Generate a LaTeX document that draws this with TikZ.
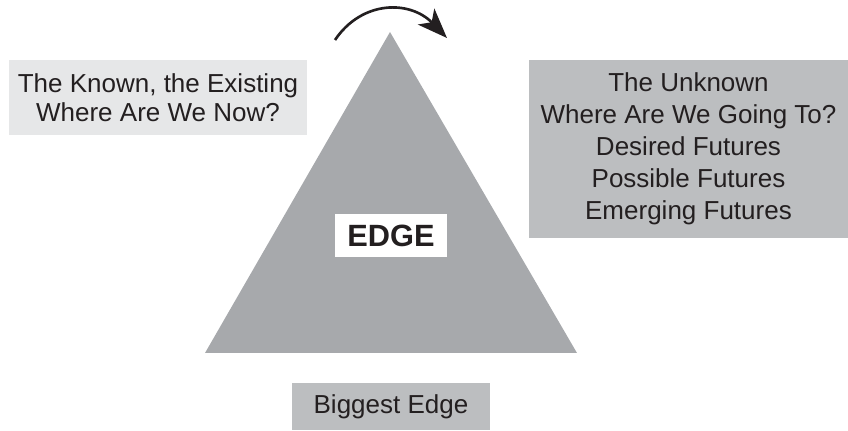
\documentclass[tikz,border=0pt]{standalone}
\usepackage{fontspec}
\setmainfont{Liberation Sans}
\usetikzlibrary{arrows.meta}

\definecolor{edgegray}{HTML}{A7A9AC}
\definecolor{boxgray}{HTML}{BCBEC0}
\definecolor{palegray}{HTML}{E6E7E8}
\definecolor{inkgray}{HTML}{231F20}

\tikzset{
    box/.style={inner sep=0pt, align=center, text=inkgray},
}

\begin{document}
\begin{tikzpicture}[x=0.2mm, y=-0.2mm]
    \useasboundingbox (0,0) rectangle (848,431);

    \fill[edgegray] (390,32) -- (577,353) -- (205,353) -- cycle;

    \draw(158,97.5) node[box, fill=palegray, minimum width=59.6mm, minimum height=15mm,
        font=\fontsize{14.8}{16.5}\selectfont] (known)
        {The Known, the Existing\\Where Are We Now?};
    \draw(688.5,149) node[box, fill=boxgray, minimum width=63.8mm, minimum height=35.6mm,
        font=\fontsize{14.8}{18.2}\selectfont] (unknown)
        {The Unknown\\Where Are We Going To?\\Desired Futures\\Possible Futures\\Emerging Futures};
    \draw(391,235.5) node[box, fill=white, minimum width=22.4mm, minimum height=8.6mm,
        font=\fontsize{17.5}{19}\selectfont\bfseries] (edge) {EDGE};
    \draw(391,406.5) node[box, fill=boxgray, minimum width=39.6mm, minimum height=9.4mm,
        font=\fontsize{14.8}{17}\selectfont] (biggest) {Biggest Edge};

    \coordinate (from) at (335,40);
    \coordinate (to) at (447,38);
    \draw[inkgray, line width=1.5pt, -{Stealth[length=17pt, width=13pt, inset=4.5pt]}]
        (from) .. controls (362,0) and (410,0) .. (to);

\end{tikzpicture}
\end{document}
